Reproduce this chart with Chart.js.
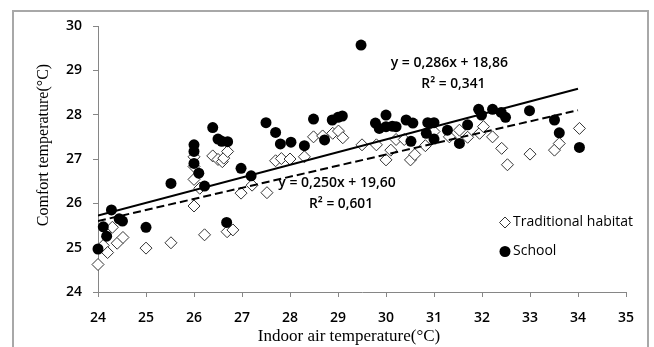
<!DOCTYPE html>
<html>
<head>
<meta charset="utf-8">
<script src="https://cdn.jsdelivr.net/npm/chart.js@4.4.1/dist/chart.umd.min.js"></script>
<style>
  body { margin: 0; background: #fff; }
  #wrap { position: relative; width: 654px; height: 347px; }
  #frame { position: absolute; left: 12px; top: 10px; width: 633px; height: 345px; border: 2px solid #a8a8a8; }
  canvas { position: absolute; left: 0; top: 0; }
</style>
</head>
<body>
<div id="wrap">
  <div id="frame"></div>
  <canvas id="chart" width="654" height="347"></canvas>
</div>
<script>
// Traditional habitat (diamonds)
const habitatX = [24.0, 24.11, 24.2, 24.3, 24.4, 24.52, 25.0, 25.52, 26.0, 26.0, 26.0, 26.0, 26.12, 26.22,
  26.39, 26.5, 26.59, 26.62, 26.7, 26.69, 26.81, 26.98, 27.21, 27.52, 27.7, 27.82, 28.0, 28.3, 28.49,
  28.68, 28.89, 29.01, 29.1, 29.5, 29.8, 30.0, 30.1, 30.21, 30.38, 30.51, 30.6, 30.82, 31.0, 31.32,
  31.53, 31.7, 31.95, 32.03, 32.22, 32.41, 32.53, 33.0, 33.51, 33.61, 34.03];
const habitatY = [24.62, 25.05, 24.89, 25.46, 25.1, 25.23, 24.99, 25.11, 25.94, 26.54, 26.83, 27.05, 26.34, 25.29,
  27.07, 26.99, 26.94, 27.02, 27.17, 25.36, 25.4, 26.23, 26.41, 26.24, 26.96, 27.01, 27.0, 27.05, 27.5,
  27.52, 27.58, 27.63, 27.48, 27.32, 27.32, 26.98, 27.2, 27.44, 27.44, 26.98, 27.1, 27.3, 27.62, 27.5,
  27.65, 27.49, 27.58, 27.73, 27.5, 27.24, 26.87, 27.11, 27.2, 27.35, 27.69];

// School (filled circles)
const schoolX = [24.0, 24.11, 24.18, 24.28, 24.44, 24.51, 25.0, 25.52, 26.0, 26.0, 26.0, 26.1, 26.22, 26.39,
  26.5, 26.58, 26.7, 26.68, 26.98, 27.19, 27.5, 27.7, 27.8, 28.02, 28.3, 28.49, 28.72, 28.88, 29.0,
  29.09, 29.48, 29.78, 29.86, 30.0, 30.0, 30.13, 30.21, 30.42, 30.56, 30.52, 30.84, 30.87, 31.0, 31.0,
  31.28, 31.53, 31.7, 31.93, 31.99, 32.22, 32.4, 32.49, 32.99, 33.51, 33.61, 34.03];
const schoolY = [24.97, 25.47, 25.26, 25.85, 25.65, 25.6, 25.46, 26.45, 27.32, 27.17, 26.9, 26.68, 26.39, 27.71,
  27.45, 27.4, 27.39, 25.57, 26.79, 26.62, 27.82, 27.6, 27.34, 27.38, 27.3, 27.9, 27.43, 27.88, 27.94,
  27.97, 29.57, 27.81, 27.69, 27.99, 27.73, 27.74, 27.73, 27.88, 27.81, 27.4, 27.58, 27.82, 27.82, 27.45,
  27.65, 27.35, 27.77, 28.12, 27.99, 28.12, 28.05, 27.94, 28.09, 27.88, 27.59, 27.26];

// linear fits shown on the chart: [slope, intercept]
const schoolFit = [0.286, 18.86];
const habitatFit = [0.250, 19.60];
const fitRange = [24, 34];

const seriesNames = ["Traditional habitat", "School"];
const fitLabels = {
  school: ["y = 0,286x + 18,86", "R² = 0,341"],
  habitat: ["y = 0,250x + 19,60", "R² = 0,601"],
};

const pts = (xs, ys) => xs.map((x, i) => ({ x: x, y: ys[i] }));
const fitLine = (f) => fitRange.map((x) => ({ x: x, y: f[0] * x + f[1] }));

const sans = "'Open Sans', sans-serif";
const serif = "'Liberation Serif', 'Times New Roman', serif";

// labels, legend and axis titles
const extras = {
  id: "extras",
  afterDraw(chart) {
    const ctx = chart.ctx;
    const xs = chart.scales.x, ys = chart.scales.y;
    ctx.save();
    ctx.fillStyle = "#000";
    ctx.font = "600 14px " + sans;
    ctx.textAlign = "center";
    ctx.textBaseline = "middle";
    // equations (Calibri-like narrow width)
    const put = (lines, xv, yv) => {
      const px = xs.getPixelForValue(xv), py = ys.getPixelForValue(yv);
      ctx.fillText(lines[0], px, py, 130);
      ctx.fillText(lines[1], px + 4, py + 21, 64);
    };
    put(fitLabels.school, 31.32, 29.16);
    put(fitLabels.habitat, 28.98, 26.46);

    // legend
    ctx.font = "14px " + sans;
    ctx.textAlign = "left";
    ctx.fillText(seriesNames[0], 513, 222);
    ctx.fillText(seriesNames[1], 513, 251);
    ctx.beginPath();
    ctx.moveTo(505, 217); ctx.lineTo(510.5, 222.5); ctx.lineTo(505, 228); ctx.lineTo(499.5, 222.5);
    ctx.closePath();
    ctx.fillStyle = "#fff"; ctx.fill();
    ctx.strokeStyle = "#333"; ctx.lineWidth = 1; ctx.stroke();
    ctx.beginPath();
    ctx.arc(505, 251.5, 5.5, 0, Math.PI * 2);
    ctx.fillStyle = "#000"; ctx.fill();

    // axis titles
    ctx.font = "17px " + serif;
    ctx.textAlign = "center";
    ctx.fillText("Indoor air temperature(°C)", 349, 337);
    ctx.font = "16px " + serif;
    ctx.translate(44, 145);
    ctx.rotate(-Math.PI / 2);
    ctx.fillText("Comfort temperature(°C)", 0, 0);
    ctx.restore();
  },
};

new Chart(document.getElementById("chart"), {
  type: "scatter",
  data: {
    datasets: [
      {
        type: "line",
        data: fitLine(schoolFit),
        borderColor: "#000",
        borderWidth: 2,
        pointRadius: 0,
        order: 0,
      },
      {
        type: "line",
        data: fitLine(habitatFit),
        borderColor: "#000",
        borderWidth: 2,
        borderDash: [8, 4],
        pointRadius: 0,
        order: 0,
      },
      {
        label: seriesNames[1],
        data: pts(schoolX, schoolY),
        pointStyle: "circle",
        pointRadius: 5.5,
        backgroundColor: "#000",
        borderColor: "#000",
        borderWidth: 0,
        clip: false,
        order: 1,
      },
      {
        label: seriesNames[0],
        data: pts(habitatX, habitatY),
        pointStyle: "rectRot",
        pointRadius: 6,
        backgroundColor: "#fff",
        borderColor: "#333",
        borderWidth: 1,
        clip: false,
        order: 2,
      },
    ],
  },
  options: {
    responsive: false,
    animation: false,
    layout: { padding: { top: 26, right: 28, left: 0, bottom: 0 } },
    plugins: { legend: { display: false }, tooltip: { enabled: false } },
    scales: {
      x: {
        type: "linear",
        min: 24,
        max: 35,
        ticks: { stepSize: 1, padding: 13, color: "#000", font: { family: sans, size: 14, weight: "600" } },
        grid: { drawOnChartArea: false, color: "#868686", tickLength: 5 },
        border: { color: "#868686" },
        afterFit: (s) => { s.height = 55; },
      },
      y: {
        min: 24,
        max: 30,
        ticks: { stepSize: 1, padding: 11, color: "#000", font: { family: sans, size: 14, weight: "600" } },
        grid: { drawOnChartArea: false, color: "#868686", tickLength: 5 },
        border: { color: "#868686" },
        afterFit: (s) => { s.width = 98; },
      },
    },
  },
  plugins: [extras],
});
</script>
</body>
</html>
